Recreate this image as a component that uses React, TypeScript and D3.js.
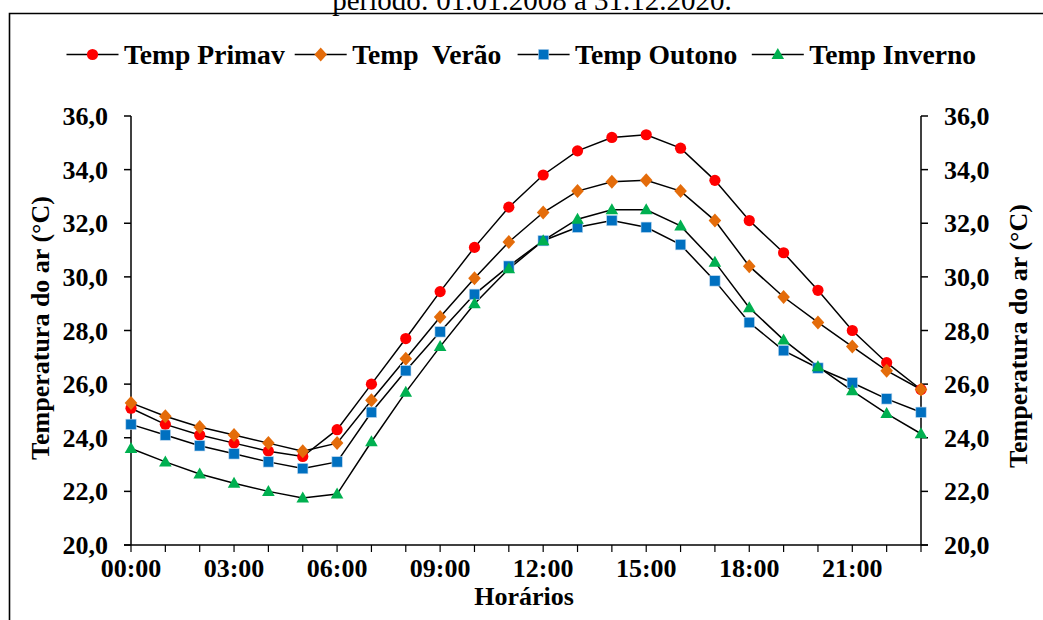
import React from "react";
import * as d3 from "d3";

const hours = d3.range(0, 24);
const xTickLabels = ["00:00", "03:00", "06:00", "09:00", "12:00", "15:00", "18:00", "21:00"];
const yTicks = [20, 22, 24, 26, 28, 30, 32, 34, 36];

const primavera = [25.1, 24.5, 24.1, 23.8, 23.5, 23.3, 24.3, 26.0, 27.7, 29.45, 31.1, 32.6, 33.8, 34.7, 35.2, 35.3, 34.8, 33.6, 32.1, 30.9, 29.5, 28.0, 26.8, 25.8];
const verao = [25.3, 24.8, 24.4, 24.1, 23.8, 23.5, 23.8, 25.4, 26.95, 28.5, 29.95, 31.3, 32.4, 33.2, 33.55, 33.6, 33.2, 32.1, 30.4, 29.25, 28.3, 27.4, 26.5, 25.8];
const outono = [24.5, 24.1, 23.7, 23.4, 23.1, 22.85, 23.1, 24.95, 26.5, 27.95, 29.35, 30.4, 31.35, 31.85, 32.1, 31.85, 31.2, 29.85, 28.3, 27.25, 26.6, 26.05, 25.45, 24.95];
const inverno = [23.6, 23.1, 22.65, 22.3, 22.0, 21.75, 21.9, 23.85, 25.7, 27.4, 29.0, 30.3, 31.35, 32.15, 32.5, 32.5, 31.9, 30.55, 28.85, 27.65, 26.65, 25.75, 24.9, 24.15];

const seriesNames = ["Temp Primav", "Temp  Verão", "Temp Outono", "Temp Inverno"];
const seriesValues = [primavera, verao, outono, inverno];
const seriesColors = ["#FF0000", "#E46C0A", "#0070C0", "#00B050"];
const seriesShapes = ["circle", "diamond", "square", "triangle"];

const FONT = "'Liberation Serif', 'Times New Roman', serif";

const W = 1043;
const H = 620;
const plot = { left: 131, right: 921, top: 116, bottom: 545 };
const legendX = [66.5, 294.7, 517.6, 751.8];

function Marker({ shape, x, y, color }: { shape: string; x: number; y: number; color: string }) {
  if (shape === "circle") return <circle cx={x} cy={y} r={5.6} fill={color} />;
  if (shape === "diamond")
    return <path d={`M${x},${y - 7}L${x + 6.3},${y}L${x},${y + 7}L${x - 6.3},${y}Z`} fill={color} />;
  if (shape === "square")
    return <rect x={x - 5.2} y={y - 5.2} width={10.4} height={10.4} fill={color} stroke="#BDD7EE" strokeWidth={0.6} />;
  return <path d={`M${x},${y - 6.5}L${x + 6.3},${y + 4.5}L${x - 6.3},${y + 4.5}Z`} fill={color} />;
}

export default function App() {
  const x = d3.scaleLinear().domain([0, 23]).range([plot.left, plot.right]);
  const y = d3.scaleLinear().domain([20, 36]).range([plot.bottom, plot.top]);
  const line = d3
    .line<number>()
    .x((_, i) => x(hours[i]))
    .y((d) => y(d));

  return (
    <svg
      width={W}
      height={H}
      style={{ position: "absolute", left: 0, top: 0, background: "#fff" }}
      fontFamily={FONT}
    >
      <rect x={0} y={0} width={W} height={H} fill="#fff" />
      {/* title (cut off at top, as in the reference) */}
      <text x={532} y={10} textAnchor="middle" fontSize={29} fill="#000">
        período: 01.01.2008 a 31.12.2020.
      </text>
      {/* frame */}
      <path d={`M9.5,${H + 5}V13.5H${W + 5}`} fill="none" stroke="#000" strokeWidth={1.6} />

      {/* legend */}
      {seriesNames.map((name, i) => (
        <g key={name}>
          <line x1={legendX[i]} x2={legendX[i] + 52} y1={54.5} y2={54.5} stroke="#000" strokeWidth={1.5} />
          <Marker shape={seriesShapes[i]} x={legendX[i] + 26} y={54.5} color={seriesColors[i]} />
          <text
            x={legendX[i] + 57.5}
            y={64}
            fontSize={27.6}
            fontWeight="bold"
            style={{ whiteSpace: "pre" }}
          >
            {name}
          </text>
        </g>
      ))}

      {/* axes */}
      <line x1={plot.left} x2={plot.left} y1={plot.top} y2={plot.bottom} stroke="#000" strokeWidth={1.5} />
      <line x1={plot.right} x2={plot.right} y1={plot.top} y2={plot.bottom} stroke="#000" strokeWidth={1.5} />
      <line x1={plot.left - 7} x2={plot.right + 7} y1={plot.bottom} y2={plot.bottom} stroke="#000" strokeWidth={1.5} />
      {yTicks.map((t) => (
        <g key={t}>
          <line x1={plot.left - 7} x2={plot.left} y1={y(t)} y2={y(t)} stroke="#000" strokeWidth={1.5} />
          <line x1={plot.right} x2={plot.right + 7} y1={y(t)} y2={y(t)} stroke="#000" strokeWidth={1.5} />
          <text x={108} y={y(t) + 9} textAnchor="end" fontSize={26} fontWeight="bold">
            {d3.format(".1f")(t).replace(".", ",")}
          </text>
          <text x={944} y={y(t) + 9} textAnchor="start" fontSize={26} fontWeight="bold">
            {d3.format(".1f")(t).replace(".", ",")}
          </text>
        </g>
      ))}
      {hours.map((h) => (
        <line key={h} x1={x(h)} x2={x(h)} y1={plot.bottom} y2={plot.bottom + 7} stroke="#000" strokeWidth={1.2} />
      ))}
      {xTickLabels.map((lab, i) => (
        <text key={lab} x={x(i * 3)} y={577} textAnchor="middle" fontSize={26} fontWeight="bold">
          {lab}
        </text>
      ))}
      <text x={524} y={605} textAnchor="middle" fontSize={26} fontWeight="bold">
        Horários
      </text>
      <text
        transform={`translate(49,328) rotate(-90)`}
        textAnchor="middle"
        fontSize={26}
        fontWeight="bold"
      >
        Temperatura do ar (°C)
      </text>
      <text
        transform={`translate(1027,336) rotate(-90)`}
        textAnchor="middle"
        fontSize={26}
        fontWeight="bold"
      >
        Temperatura do ar (°C)
      </text>

      {/* series lines */}
      {seriesValues.map((vals, i) => (
        <path key={`l${i}`} d={line(vals) || ""} fill="none" stroke="#000" strokeWidth={1.5} />
      ))}
      {/* markers */}
      {seriesValues.map((vals, i) => (
        <g key={`m${i}`}>
          {vals.map((v, j) => (
            <Marker key={j} shape={seriesShapes[i]} x={x(hours[j])} y={y(v)} color={seriesColors[i]} />
          ))}
        </g>
      ))}
    </svg>
  );
}
